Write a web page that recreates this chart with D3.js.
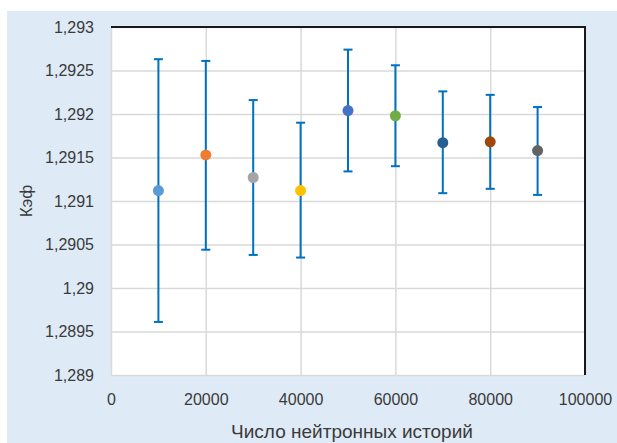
<!DOCTYPE html>
<html>
<head>
<meta charset="utf-8">
<script src="https://cdn.jsdelivr.net/npm/d3@7"></script>
<style>
  body { margin: 0; background: #fff; }
  .chart text { font-family: "Liberation Sans", Arial, sans-serif; fill: #3a3a3a; }
</style>
</head>
<body>
<div class="container"></div>
<script>
// data
const histories = [10000, 20000, 30000, 40000, 50000, 60000, 70000, 80000, 90000]
const keff = [1.29112, 1.29153, 1.29127, 1.29112, 1.29204, 1.29198, 1.29167, 1.29168, 1.29158]
const errUp = [0.00151, 0.00108, 0.00089, 0.00078, 0.00070, 0.00058, 0.00059, 0.00054, 0.00050]
const errDown = [0.00151, 0.00109, 0.00089, 0.00077, 0.00070, 0.00058, 0.00058, 0.00054, 0.00051]
const pointColors = ["#5B9BD5", "#ED7D31", "#A5A5A5", "#FFC000", "#4472C4", "#70AD47", "#255E91", "#9E480E", "#636363"]
const xTicks = [0, 20000, 40000, 60000, 80000, 100000]
const yTicks = [1.289, 1.2895, 1.29, 1.2905, 1.291, 1.2915, 1.292, 1.2925, 1.293]

const w = 617
const h = 443
const plotL = 111, plotR = 585, plotT = 27, plotB = 375

const points = histories.map((x, i) => ({
    x: x, y: keff[i], hi: keff[i] + errUp[i], lo: keff[i] - errDown[i], c: pointColors[i]
}))

const svg = d3.select(".container")
    .append("svg")
    .attr("width", w)
    .attr("height", h)
    .attr("class", "chart")

// light blue chart area
svg.append("rect")
    .attr("x", 7).attr("y", 11)
    .attr("width", w - 7).attr("height", h - 11)
    .attr("fill", "#DEEAF6")

svg.append("rect")
    .attr("x", plotL).attr("y", plotT)
    .attr("width", plotR - plotL).attr("height", plotB - plotT)
    .attr("fill", "#fff")

const xScale = d3.scaleLinear().domain([0, 100000]).range([plotL, plotR])
const yScale = d3.scaleLinear().domain([1.289, 1.293]).range([plotB, plotT])

const fmt = d => String(+d.toFixed(4)).replace(".", ",")

// gridlines
svg.append("g")
    .attr("transform", `translate(0, ${plotB})`)
    .call(d3.axisBottom(xScale).tickValues(xTicks).tickSize(-(plotB - plotT)).tickFormat(""))
    .call(g => g.select(".domain").remove())
    .call(g => g.selectAll("line").attr("stroke", "#D9D9D9").attr("stroke-width", 1.5))

svg.append("g")
    .attr("transform", `translate(${plotL}, 0)`)
    .call(d3.axisLeft(yScale).tickValues(yTicks).tickSize(-(plotR - plotL)).tickFormat(""))
    .call(g => g.select(".domain").remove())
    .call(g => g.selectAll("line").attr("stroke", "#D9D9D9").attr("stroke-width", 1.5))

// top and right border
svg.append("path")
    .attr("d", `M${plotL},${plotT}H${plotR}V${plotB}`)
    .attr("fill", "none")
    .attr("stroke", "#1a1a1a")
    .attr("stroke-width", 2)

// tick labels
svg.append("g")
    .attr("transform", `translate(0, ${plotB})`)
    .call(d3.axisBottom(xScale).tickValues(xTicks).tickSize(0).tickPadding(19).tickFormat(d => d))
    .call(g => g.select(".domain").remove())
    .selectAll("text").attr("font-size", 16)

svg.append("g")
    .attr("transform", `translate(${plotL}, 0)`)
    .call(d3.axisLeft(yScale).tickValues(yTicks).tickSize(0).tickPadding(17).tickFormat(fmt))
    .call(g => g.select(".domain").remove())
    .selectAll("text").attr("font-size", 16)

// error bars
const bars = svg.append("g").attr("stroke", "#0070C0").attr("stroke-width", 2)

bars.selectAll(".err")
    .data(points)
    .enter()
    .append("line")
    .attr("x1", d => xScale(d.x)).attr("x2", d => xScale(d.x))
    .attr("y1", d => yScale(d.hi)).attr("y2", d => yScale(d.lo))

bars.selectAll(".capHi")
    .data(points)
    .enter()
    .append("line")
    .attr("x1", d => xScale(d.x) - 4.5).attr("x2", d => xScale(d.x) + 4.5)
    .attr("y1", d => yScale(d.hi)).attr("y2", d => yScale(d.hi))

bars.selectAll(".capLo")
    .data(points)
    .enter()
    .append("line")
    .attr("x1", d => xScale(d.x) - 4.5).attr("x2", d => xScale(d.x) + 4.5)
    .attr("y1", d => yScale(d.lo)).attr("y2", d => yScale(d.lo))

svg.selectAll("circle")
    .data(points)
    .enter()
    .append("circle")
    .attr("cx", d => xScale(d.x))
    .attr("cy", d => yScale(d.y))
    .attr("r", 5.5)
    .attr("fill", d => d.c)

// axis titles
svg.append("text")
    .attr("x", 352)
    .attr("y", 438)
    .attr("text-anchor", "middle")
    .attr("font-size", 19)
    .text("Число нейтронных историй")

svg.append("text")
    .attr("transform", `translate(32, ${(plotT + plotB) / 2}) rotate(-90)`)
    .attr("text-anchor", "middle")
    .attr("font-size", 17)
    .text("Кэф")
</script>
</body>
</html>
